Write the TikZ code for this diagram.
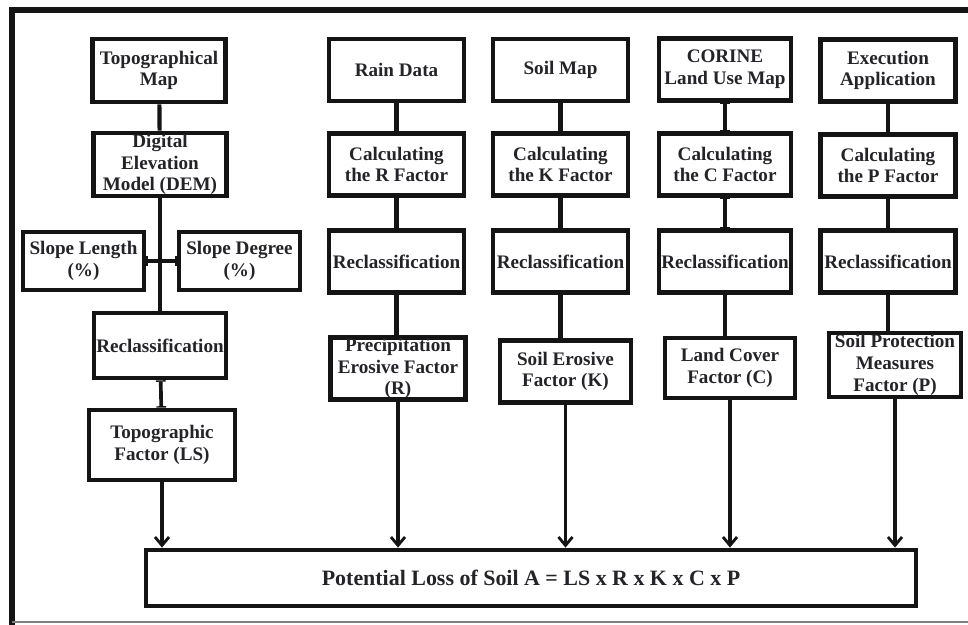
\documentclass[tikz,border=0pt]{standalone}
\usepackage{fontspec}
\setmainfont{Liberation Serif}
\usetikzlibrary{arrows.meta}
\definecolor{inkblack}{RGB}{20,20,20}
\definecolor{textdark}{RGB}{35,35,40}

\begin{document}
\begin{tikzpicture}[
    x=0.025cm, y=-0.025cm,
    box/.style={rectangle, draw=inkblack, line width=3.4pt, align=center, inner sep=0.5pt,
                text=textdark, font=\bfseries\fontsize{13.6}{15.4}\selectfont,
                minimum width=3.37cm, minimum height=1.55cm},
    slopebox/.style={box, minimum width=3.02cm, minimum height=1.45cm},
    link/.style={line width=3pt, color=inkblack},
    ibeam/.style={line width=2.6pt, color=inkblack, {Bar[width=7pt,line width=1pt]}-{Bar[width=7pt,line width=1pt]}},
    flow/.style={line width=2.6pt, color=inkblack, -{Straight Barb[length=6pt,width=10pt,line width=2pt]}}
]
\useasboundingbox (0,0) rectangle (968,625);
\draw[line width=4.5pt, inkblack] (12,625) -- (12,10) -- (968,10);
\draw[line width=1pt, gray] (12,622) -- (968,622);

% topographic branch
\node[box, minimum width=3.32cm, minimum height=1.57cm] (topo) at (159,70.5) {Topographical\\Map};
\node[box, minimum width=3.32cm, minimum height=1.57cm] (dem)  at (160,164.5) {Digital\\Elevation\\Model (DEM)};
\node[slopebox] (slen) at (83.5,261) {Slope Length\\(\%)};
\node[slopebox] (sdeg) at (239.5,261) {Slope Degree\\(\%)};
\node[box, minimum width=3.3cm, minimum height=1.62cm] (recl) at (160,345.5) {Reclassification};
\node[box, minimum width=3.65cm, minimum height=1.75cm] (ls) at (162,445) {Topographic\\Factor (LS)};

% rain branch
\node[box] (rain)   at (396.5,70)    {Rain Data};
\node[box] (calcr)  at (396.5,164.5) {Calculating\\the R Factor};
\node[box] (reclr)  at (396.5,261.5) {Reclassification};
\node[box] (precr)  at (398,368.5)   {Precipitation\\Erosive Factor\\(R)};

% soil branch
\node[box] (soil)   at (560.5,70)    {Soil Map};
\node[box] (calck)  at (560.5,164.5) {Calculating\\the K Factor};
\node[box] (reclk)  at (560.5,261.5) {Reclassification};
\node[box, minimum width=3.27cm] (erosk) at (565.5,371.5) {Soil Erosive\\Factor (K)};

% land use branch
\node[box, minimum width=3.3cm] (corine) at (725,69.5)  {CORINE\\Land Use Map};
\node[box, minimum width=3.3cm] (calcc)  at (725,164.5) {Calculating\\the C Factor};
\node[box, minimum width=3.3cm] (reclc)  at (725,261.5) {Reclassification};
\node[box, minimum width=3.25cm, minimum height=1.5cm] (landc) at (730,368) {Land Cover\\Factor (C)};

% protection branch
\node[box] (exec)   at (888,70.5)   {Execution\\Application};
\node[box] (calcp)  at (888,165.5)  {Calculating\\the P Factor};
\node[box] (reclp)  at (888,261.5)  {Reclassification};
\node[box, minimum width=3.3cm, minimum height=1.6cm] (protp) at (895,365) {Soil Protection\\Measures\\Factor (P)};

\node[box, minimum width=19.25cm, minimum height=1.4cm, font=\bfseries\fontsize{15.6}{18}\selectfont] (soilloss) at (531,578)
    {Potential Loss of Soil A = LS x R x K x C x P};

\draw[link] (topo) -- (dem);
\draw[link] (dem) -- (recl);
\draw[ibeam] (slen) -- (sdeg);
\draw[ibeam] (recl) -- (ls);

\draw[link] (rain) -- (calcr);
\draw[link] (calcr) -- (reclr);
\draw[link] (reclr.south) -- (reclr.south |- precr.north);

\draw[link] (soil) -- (calck);
\draw[link] (calck) -- (reclk);
\draw[link] (reclk.south) -- (reclk.south |- erosk.north);

\draw[ibeam] (corine) -- (calcc);
\draw[ibeam] (calcc) -- (reclc);
\draw[link] (reclc.south) -- (reclc.south |- landc.north);

\draw[link] (exec) -- (calcp);
\draw[link] (calcp) -- (reclp);
\draw[link] (reclp.south) -- (reclp.south |- protp.north);

\draw[flow] (ls.south) -- (ls.south |- soilloss.north);
\draw[flow] (precr.south) -- (precr.south |- soilloss.north);
\draw[flow] (erosk.south) -- (erosk.south |- soilloss.north);
\draw[flow] (landc.south) -- (landc.south |- soilloss.north);
\draw[flow] (protp.south) -- (protp.south |- soilloss.north);
\end{tikzpicture}
\end{document}
